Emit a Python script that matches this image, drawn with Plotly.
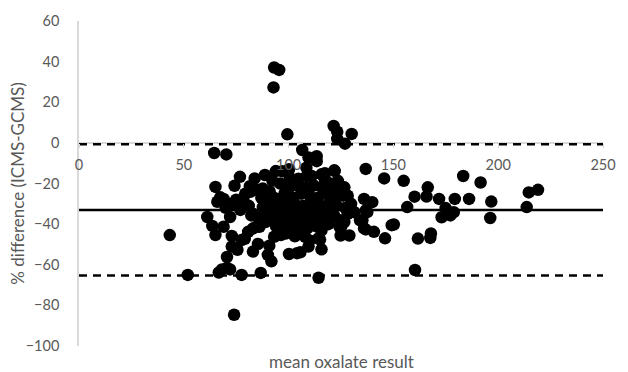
import plotly.graph_objects as go

# ---- data ----
mean_result = [
    93.1, 95.5, 92.8, 99.4, 64.5, 70.3, 121.5, 123.2, 130.1, 123.2, 126.9,
    106.5, 109.5, 113.4, 113.4, 108.5, 136.8, 121.8, 117.3, 100.2,
    145.6, 154.9, 183.3, 191.6, 166.4, 214.6, 219.0,
    160.1, 165.8, 171.8, 179.3, 186.1, 196.7, 213.6, 156.6, 174.9, 173.0, 177.2, 178.8, 196.2,
    150.2, 161.7, 167.6, 167.9, 146.0, 140.7, 136.8,
    136.0, 139.9, 137.5, 135.2, 129.0, 124.8, 124.3, 126.6,
    131.3, 122.0, 115.7, 109.5, 105.6, 114.3, 160.3, 115.0, 115.7,
    43.3, 51.9, 61.2, 63.6, 65.1, 66.7, 70.6, 72.1, 68.2,
    74.0, 77.6, 86.7, 70.6, 72.9, 75.6, 72.9, 79.1, 77.6,
    83.0, 85.4, 80.7, 83.0, 86.1, 84.6, 90.1, 91.8, 90.8,
    93.1, 96.3, 98.6, 100.2, 104.0, 69.0, 72.1,
    69.0, 73.7, 78.4, 82.2, 65.1, 74.2, 81.5, 87.7,
    76.8, 83.8, 88.7, 93.9, 97.0, 92.3, 100.6,
    67.4, 72.9, 87.7, 92.3, 96.6, 83.0, 90.0, 91.6,
    98.6, 100.2, 79.3, 82.0, 85.0, 87.0, 77.0,
    107.9, 114.2, 125.1, 134.1, 136.0, 149.2, 121.2, 125.8, 131.0,
    111.0, 115.7, 117.3, 122.0, 123.5, 126.6, 104.7, 108.7,
    128.2, 129.8, 136.8, 122.0, 128.2, 122.0, 125.0,
    94.0, 97.0, 95.0,
    96.0, 100.0, 104.0, 108.0, 112.0, 116.0, 120.0,
    98.0, 102.0, 106.0, 110.0, 114.0, 118.0, 122.0, 126.0,
    95.0, 99.0, 103.0, 107.0, 111.0, 115.0, 119.0, 123.0, 127.0,
    97.0, 101.0, 105.0, 109.0, 113.0, 117.0, 121.0,
    99.0, 103.0, 107.0, 111.0, 115.0, 119.0,
    101.0, 105.0, 109.0, 113.0, 103.0, 110.0,
    88.0, 91.0, 93.0, 89.0, 93.0, 86.0, 89.0, 92.0,
    66.0, 70.0, 75.0, 78.0, 81.0,
]
pct_difference = [
    37.1, 35.9, 27.3, 4.2, -5.0, -5.7, 8.3, 5.5, 4.4, 2.0, -0.4,
    -3.5, -7.2, -6.6, -9.0, -12.2, -12.8, -13.5, -14.9, -13.0,
    -17.5, -18.7, -16.3, -19.5, -21.9, -24.4, -23.1,
    -26.5, -26.4, -27.6, -27.6, -27.6, -28.9, -31.6, -31.6, -32.1, -36.6, -35.7, -34.1, -37.0,
    -40.2, -47.1, -46.8, -44.6, -47.0, -43.8, -42.6,
    -27.6, -29.2, -34.1, -38.1, -45.6, -45.6, -41.3, -39.0,
    -34.1, -36.5, -52.4, -51.0, -53.9, -66.4, -62.6, -47.6, -43.0,
    -45.4, -65.0, -36.5, -40.9, -45.4, -63.8, -61.5, -62.3, -62.3,
    -84.6, -65.0, -64.0, -56.2, -51.0, -52.6, -45.8, -47.2, -47.8,
    -53.5, -49.8, -43.8, -42.1, -41.3, -41.3, -55.1, -58.3, -50.6,
    -46.2, -45.4, -44.6, -54.7, -54.3, -41.3, -36.5,
    -27.6, -30.0, -27.6, -35.7, -21.7, -21.1, -21.3, -22.5,
    -16.7, -17.5, -15.8, -13.9, -14.0, -18.7, -17.2,
    -26.8, -30.0, -31.6, -29.2, -29.2, -35.0, -35.7, -29.2,
    -21.1, -26.0, -25.0, -24.0, -23.0, -27.0, -33.0,
    -46.2, -47.0, -41.3, -38.1, -42.1, -40.5, -35.7, -38.1, -34.0,
    -16.3, -15.5, -17.9, -13.9, -18.7, -21.9, -17.6, -16.3,
    -26.0, -30.0, -33.2, -36.5, -34.9, -23.0, -24.0,
    -41.0, -42.0, -38.0,
    -20.0, -22.0, -21.0, -22.0, -21.0, -22.0, -20.0,
    -25.0, -27.0, -25.0, -26.0, -27.0, -25.0, -27.0, -26.0,
    -30.0, -31.0, -30.0, -31.0, -30.0, -31.0, -30.0, -31.0, -32.0,
    -34.0, -35.0, -34.0, -35.0, -34.0, -35.0, -33.0,
    -38.0, -39.0, -38.0, -39.0, -38.0, -40.0,
    -42.0, -43.0, -42.0, -41.0, -46.0, -48.0,
    -25.0, -24.0, -27.0, -33.0, -33.0, -37.0, -39.0, -37.0,
    -29.0, -32.0, -28.0, -30.0, -31.0,
]

line_x = [0, 250]
mean_bias = -33.0
upper_loa = -0.7
lower_loa = -65.3

x_ticks = [0, 50, 100, 150, 200, 250]
y_ticks = [-100, -80, -60, -40, -20, 0, 20, 40, 60]
x_range = [0, 250]
y_range = [-100, 60]

FONT = "Lato, 'Open Sans', sans-serif"
GREY = "#595959"
AXIS = "#d9d9d9"

fig = go.Figure()
fig.add_trace(go.Scatter(
    x=mean_result, y=pct_difference, mode="markers",
    marker=dict(color="black", size=12.5, line=dict(width=0)),
    showlegend=False, hoverinfo="x+y"))
fig.add_trace(go.Scatter(
    x=line_x, y=[mean_bias, mean_bias], mode="lines",
    line=dict(color="black", width=2.5), showlegend=False))
fig.add_trace(go.Scatter(
    x=line_x, y=[upper_loa, upper_loa], mode="lines",
    line=dict(color="black", width=2.5, dash="8px,6px"), showlegend=False))
fig.add_trace(go.Scatter(
    x=line_x, y=[lower_loa, lower_loa], mode="lines",
    line=dict(color="black", width=2.5, dash="8px,6px"), showlegend=False))

zero_pos = (0 - y_range[0]) / (y_range[1] - y_range[0])

fig.update_layout(
    width=628, height=372,
    margin=dict(l=79, r=14, t=16, b=26),
    paper_bgcolor="white", plot_bgcolor="white",
    font=dict(family=FONT, size=14.5, color=GREY),
    xaxis=dict(
        range=x_range, tickvals=x_ticks, showgrid=False, zeroline=False,
        showline=False, anchor="free", position=zero_pos,
        ticks="outside", ticklen=4, tickcolor=AXIS, tickwidth=1,
        tickfont=dict(family=FONT, size=14.5, color=GREY),
        ticklabelstandoff=5,
    ),
    yaxis=dict(
        range=y_range, tickvals=y_ticks, showgrid=False,
        zeroline=True, zerolinecolor=AXIS, zerolinewidth=1.5,
        showline=True, linecolor=AXIS, linewidth=1.5,
        ticks="", tickfont=dict(family=FONT, size=14.5, color=GREY),
        ticklabelstandoff=15,
    ),
    annotations=[
        dict(text="mean oxalate result", xref="paper", yref="paper",
             x=0.5, y=-0.048, xanchor="center", yanchor="middle",
             showarrow=False, borderpad=0,
             font=dict(family=FONT, size=17, color=GREY)),
        dict(text="% difference (ICMS-GCMS)", xref="paper", yref="paper",
             x=-0.118, y=0.5, xanchor="center", yanchor="middle", textangle=-90,
             showarrow=False, font=dict(family=FONT, size=17, color=GREY)),
    ],
)

fig.write_html(
    "out.html",
    config={"displayModeBar": False},
    post_script="document.body.style.margin='0';document.body.style.overflow='hidden';",
)
